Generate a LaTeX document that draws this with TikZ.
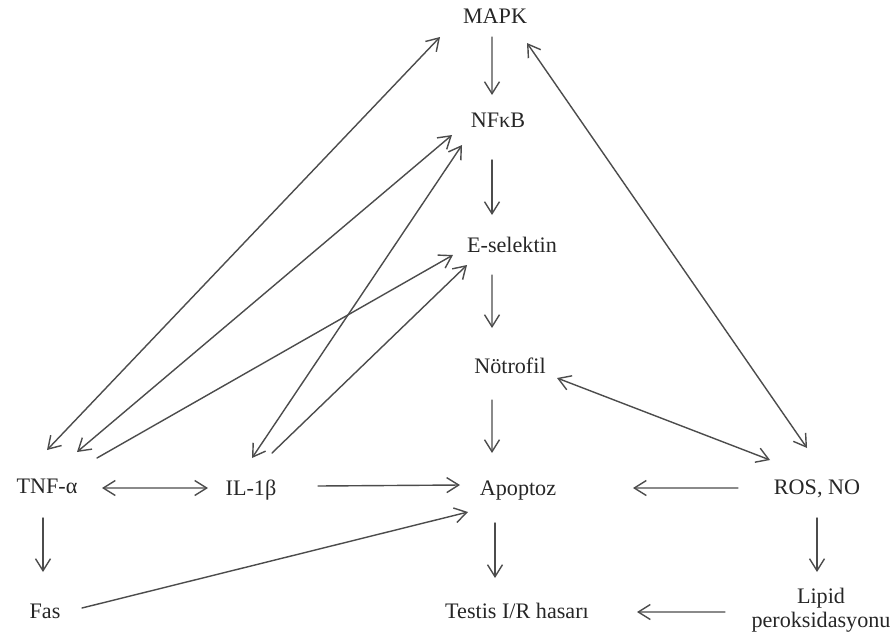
\documentclass[tikz,border=0pt]{standalone}
\usepackage{fontspec}
\setmainfont{LiberationSerif-Regular.ttf}
\usetikzlibrary{arrows.meta}

\begin{document}
\begin{tikzpicture}[
  line cap=round,
  line join=round,
  font=\fontsize{12.6}{14}\selectfont,
  term/.style={text=black!85, inner sep=0pt, text height=8.5pt, text depth=2.5pt},
  twoline/.style={text=black!85, inner sep=0pt, align=center},
  link/.style={-{Straight Barb[length=2.4mm,width=3mm]}, line width=0.8pt, draw=black!70},
  duallink/.style={{Straight Barb[length=2.4mm,width=3mm]}-{Straight Barb[length=2.4mm,width=3mm]}, line width=0.8pt, draw=black!70}
]

\useasboundingbox (0,0) rectangle (17.88,12.86);

% Central cascade.
\node[term] (mapk) at (9.90,12.50) {MAPK};
\node[term] (nfkb) at (9.96,10.42) {NFκB};
\node[term] (esel) at (10.24,7.92) {E-selektin};
\node[term] (notr) at (10.20,5.50) {Nötrofil};
\node[term] (apop) at (10.36,3.06) {Apoptoz};
\node[term] (test) at (10.34,0.60) {Testis I/R hasarı};

% Side nodes.
\node[term] (tnf) at (0.94,3.10) {TNF-α};
\node[term] (il) at (5.02,3.06) {IL-1β};
\node[term] (fas) at (0.90,0.60) {Fas};
\node[term] (ros) at (16.34,3.08) {ROS, NO};
\node[twoline] (lipid) at (16.42,0.66) {Lipid\\peroksidasyonu};

% Vertical steps.
\draw[link] ([shift={(-0.06,-0.38)}]mapk.center) -- ([shift={(-0.12,0.54)}]nfkb.center);
\draw[link] ([shift={(-0.12,-0.76)}]nfkb.center) -- ([shift={(-0.40,0.64)}]esel.center);
\draw[link] ([shift={(-0.40,-0.56)}]esel.center) -- ([shift={(-0.36,0.80)}]notr.center);
\draw[link] ([shift={(-0.36,-0.64)}]notr.center) -- ([shift={(-0.52,0.74)}]apop.center);
\draw[link] ([shift={(-0.46,-0.66)}]apop.center) -- ([shift={(-0.44,0.70)}]test.center);
\draw[link] ([shift={(-0.08,-0.60)}]tnf.center) -- ([shift={(-0.04,0.82)}]fas.center);
\draw[link] ([shift={(0,-0.58)}]ros.center) -- ([shift={(-0.08,0.76)}]lipid.center);

% Cytokine links.
\draw[duallink] ([shift={(0,0.76)}]tnf.center) -- ([shift={(-1.10,-0.38)}]mapk.center);
\draw[duallink] ([shift={(0.60,0.72)}]tnf.center) -- ([shift={(-0.92,-0.26)}]nfkb.center);
\draw[link] ([shift={(1.00,0.60)}]tnf.center) -- ([shift={(-1.18,-0.16)}]esel.center);
\draw[duallink] ([shift={(0.02,0.64)}]il.center) -- ([shift={(-0.72,-0.46)}]nfkb.center);
\draw[link] ([shift={(0.42,0.74)}]il.center) -- ([shift={(-0.90,-0.36)}]esel.center);
\draw[duallink] ([shift={(1.10,0)}]tnf.center) -- ([shift={(-0.86,0.04)}]il.center);
\draw[link] ([shift={(1.34,0.08)}]il.center) -- ([shift={(-1.16,0.10)}]apop.center);
\draw[link] ([shift={(0.74,0.10)}]fas.center) -- ([shift={(-1.00,-0.44)}]apop.center);

% Oxidative stress links.
\draw[duallink] ([shift={(0.64,-0.50)}]mapk.center) -- ([shift={(-0.20,0.82)}]ros.center);
\draw[duallink] ([shift={(0.94,-0.20)}]notr.center) -- ([shift={(-0.94,0.58)}]ros.center);
\draw[link] ([shift={(-1.58,0.02)}]ros.center) -- ([shift={(2.30,0.04)}]apop.center);
\draw[link] ([shift={(-1.92,-0.04)}]lipid.center) -- ([shift={(2.40,0.02)}]test.center);

\end{tikzpicture}
\end{document}
